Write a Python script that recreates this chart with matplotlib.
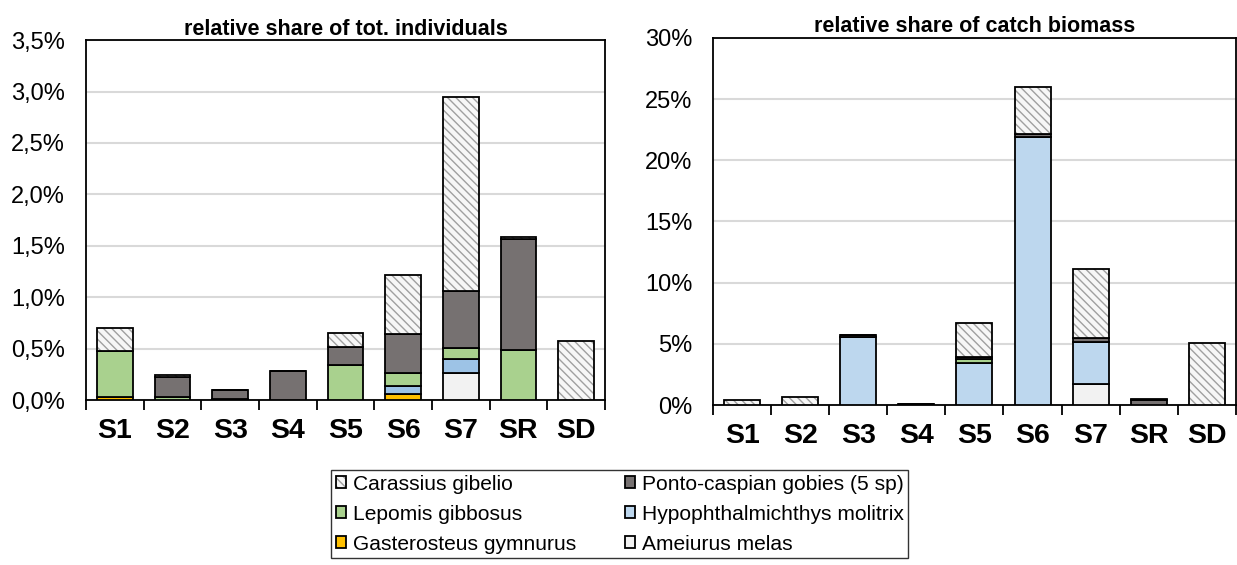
import numpy as np
import matplotlib as mpl
mpl.use('Agg')
import matplotlib.pyplot as plt
from matplotlib.legend_handler import HandlerTuple
from matplotlib.ticker import FuncFormatter, MultipleLocator, FixedLocator

plt.rcParams['font.family'] = ['Liberation Sans', 'DejaVu Sans']

sites = ['S1', 'S2', 'S3', 'S4', 'S5', 'S6', 'S7', 'SR', 'SD']

species = ['Gasterosteus gymnurus', 'Ameiurus melas', 'Hypophthalmichthys molitrix',
           'Lepomis gibbosus', 'Ponto-caspian gobies (5 sp)', 'Carassius gibelio']

# share of total individuals (%), stacked bottom -> top
ind_gasterosteus = [0.03, 0.0, 0.0, 0.0, 0.0, 0.055, 0.0, 0.0, 0.0]
ind_ameiurus     = [0.0, 0.0, 0.0, 0.0, 0.0, 0.0, 0.26, 0.0, 0.0]
ind_hypo         = [0.0, 0.0, 0.01, 0.0, 0.0, 0.085, 0.14, 0.0, 0.0]
ind_lepomis      = [0.445, 0.03, 0.0, 0.0, 0.34, 0.12, 0.11, 0.49, 0.0]
ind_gobies       = [0.0, 0.19, 0.09, 0.285, 0.18, 0.38, 0.55, 1.08, 0.0]
ind_carassius    = [0.225, 0.025, 0.0, 0.0, 0.13, 0.58, 1.89, 0.02, 0.57]

# share of catch biomass (%)
bio_gasterosteus = [0.0, 0.0, 0.0, 0.0, 0.0, 0.0, 0.0, 0.0, 0.0]
bio_ameiurus     = [0.0, 0.0, 0.0, 0.0, 0.0, 0.0, 1.75, 0.0, 0.0]
bio_hypo         = [0.0, 0.0, 5.6, 0.0, 3.4, 21.9, 3.4, 0.0, 0.0]
bio_lepomis      = [0.0, 0.0, 0.0, 0.0, 0.35, 0.0, 0.0, 0.0, 0.0]
bio_gobies       = [0.03, 0.03, 0.12, 0.08, 0.15, 0.25, 0.3, 0.45, 0.0]
bio_carassius    = [0.4, 0.62, 0.0, 0.0, 2.8, 3.85, 5.63, 0.03, 5.05]

ind_data = [ind_gasterosteus, ind_ameiurus, ind_hypo, ind_lepomis, ind_gobies, ind_carassius]
bio_data = [bio_gasterosteus, bio_ameiurus, bio_hypo, bio_lepomis, bio_gobies, bio_carassius]

colors_left = ['#FFC000', '#F2F2F2', '#9DC3E6', '#A9D18E', '#767171', '#F7F7F7']
colors_right = ['#FFC000', '#F2F2F2', '#BDD7EE', '#A9D18E', '#767171', '#F7F7F7']
HATCH_IDX = 5


def comma_pct(dec):
    def f(y, pos):
        return ('{:.%df}%%' % dec).format(y).replace('.', ',')
    return f


def plot_stack(ax, data, colors, ymax, step, dec, title):
    x = np.arange(len(sites))
    bottom = np.zeros(len(sites))
    handles = {}
    for i, (vals, c) in enumerate(zip(data, colors)):
        vals = np.array(vals)
        if i == HATCH_IDX:
            # hatch drawn in grey, outline drawn separately in black
            h1 = ax.bar(x, vals, 0.62, bottom=bottom, color=c, edgecolor='#A0A0A0',
                        hatch='\\\\\\\\', lw=0, zorder=3)
            h2 = ax.bar(x, vals, 0.62, bottom=bottom, fill=False, edgecolor='black',
                        lw=1.3, zorder=4)
            handles[i] = (h1[0], h2[0])
        else:
            h = ax.bar(x, vals, 0.62, bottom=bottom, color=c, edgecolor='black',
                       lw=1.3, zorder=3)
            handles[i] = h[0]
        bottom += vals

    ax.set_xlim(-0.5, len(sites) - 0.5)
    ax.set_ylim(0, ymax)
    ax.yaxis.set_major_locator(MultipleLocator(step))
    ax.yaxis.set_major_formatter(FuncFormatter(comma_pct(dec)))
    ax.yaxis.grid(True, color='#D9D9D9', lw=1.5, zorder=0)
    ax.set_axisbelow(True)
    ax.tick_params(axis='y', length=0, labelsize=17, pad=15)

    ax.set_xticks(x)
    ax.set_xticklabels(sites, fontsize=20.5, fontweight='bold')
    ax.xaxis.set_minor_locator(FixedLocator(np.arange(-0.5, len(sites), 1.0)))
    ax.tick_params(axis='x', which='major', length=0, pad=13)
    ax.tick_params(axis='x', which='minor', length=7, width=1.3, direction='out')

    for s in ax.spines.values():
        s.set_linewidth(1.3)
    ax.set_title(title, fontsize=15.5, fontweight='bold', pad=4)
    return handles


fig = plt.figure(figsize=(12.37, 5.65), dpi=100)
ax1 = fig.add_axes([0.0695, 0.292, 0.4195, 0.637])
ax2 = fig.add_axes([0.5765, 0.283, 0.4225, 0.650])

plot_stack(ax1, ind_data, colors_left, 3.5, 0.5, 1, 'relative share of tot. individuals')
hd = plot_stack(ax2, bio_data, colors_right, 30, 5, 0, 'relative share of catch biomass')

# legend: 2 columns, filled column-wise
order = [5, 3, 0, 4, 2, 1]
leg = fig.legend([hd[i] for i in order], [species[i] for i in order],
                 loc='upper left', bbox_to_anchor=(0.2676, 0.168), ncol=2,
                 fontsize=15.1, frameon=True, fancybox=False, edgecolor='black',
                 handlelength=0.5, handleheight=0.5, handletextpad=0.33,
                 columnspacing=2.3, labelspacing=0.52, borderpad=0.22,
                 borderaxespad=0.0,
                 handler_map={tuple: HandlerTuple(ndivide=1)})
leg.get_frame().set_linewidth(1.0)

fig.savefig('out.png', dpi=100)
